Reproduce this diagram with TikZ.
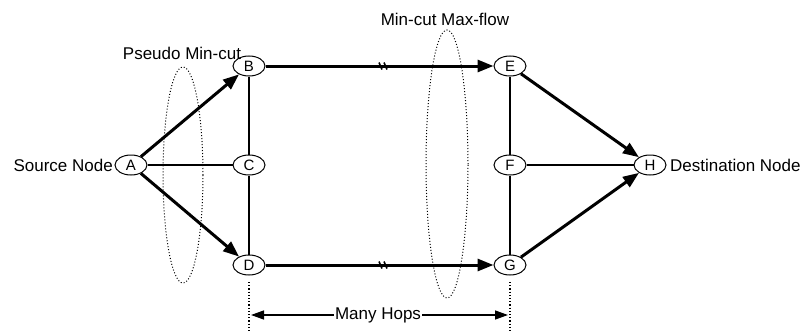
\documentclass[tikz,border=0pt]{standalone}
\usepackage{fontspec}
\setmainfont{Liberation Sans}
\usetikzlibrary{arrows.meta,shapes.geometric}
\begin{document}
\begin{tikzpicture}[x=1pt,y=-1pt,
  vtx/.style={draw,ellipse,line width=1pt,minimum width=32pt,minimum height=20pt,inner sep=0pt,font=\fontsize{15}{15}\selectfont},
  thick path/.style={line width=3pt},
  thin path/.style={line width=1.2pt},
  flow/.style={thick path,-{Triangle[length=16pt,width=12pt]}},
  cut/.style={draw,ellipse,dotted,line width=1pt},
  lbl/.style={font=\fontsize{17}{17}\selectfont,inner sep=0pt}]
\useasboundingbox (0,0) rectangle (804,332);
% nodes
\node[vtx] (A) at (131,165) {A};
\node[vtx] (B) at (249,66) {B};
\node[vtx] (C) at (249,165) {C};
\node[vtx] (D) at (249,265) {D};
\node[vtx] (E) at (510,66) {E};
\node[vtx] (F) at (510,165) {F};
\node[vtx] (G) at (510,265) {G};
\node[vtx] (H) at (650,165) {H};
% labels
\node[lbl,anchor=east] (src) at (113,165) {Source Node};
\node[lbl,anchor=west] (dst) at (670,165) {Destination Node};
\node[lbl] (pmc) at (182,53) {Pseudo Min-cut};
\node[lbl] (mcmf) at (445,19) {Min-cut Max-flow};
% cut ellipses
\node[cut,minimum width=40pt,minimum height=216pt] (cut1) at (183,175) {};
\node[cut,minimum width=42pt,minimum height=268pt] (cut2) at (447,164) {};
% thin edges
\draw[thin path] (A) -- (C);
\draw[thin path] (B) -- (C);
\draw[thin path] (C) -- (D);
\draw[thin path] (E) -- (F);
\draw[thin path] (F) -- (G);
\draw[thin path] (F) -- (H);
% thick flows
\draw[flow] (A) -- (B);
\draw[flow] (A) -- (D);
\draw[flow] (B) -- (E);
\draw[flow] (D) -- (G);
\draw[flow] (E) -- (H);
\draw[flow] (G) -- (H);
% break marks
\coordinate (bk1) at (383,66);
\coordinate (bk2) at (383,265);
\foreach \b in {bk1,bk2}{
  \draw[line width=1.6pt] ([xshift=-4pt,yshift=3.5pt]\b) -- ([xshift=-1pt,yshift=-3.5pt]\b);
  \draw[line width=1.6pt] ([xshift=1pt,yshift=3.5pt]\b) -- ([xshift=4pt,yshift=-3.5pt]\b);
}
% many hops
\coordinate (dl) at (249,282);
\coordinate (dlb) at (249,332);
\coordinate (dr) at (510,282);
\coordinate (drb) at (510,332);
\draw[dotted,line width=1.2pt] (dl) -- (dlb);
\draw[dotted,line width=1.2pt] (dr) -- (drb);
\coordinate (hl) at (251,315);
\coordinate (hr) at (508,315);
\node[lbl,inner sep=1pt] (mh) at (378,315) {Many Hops};
\draw[line width=1.4pt,-{Triangle[length=13pt,width=9pt]}] (mh) -- (hl);
\draw[line width=1.4pt,-{Triangle[length=13pt,width=9pt]}] (mh) -- (hr);
\end{tikzpicture}
\end{document}
